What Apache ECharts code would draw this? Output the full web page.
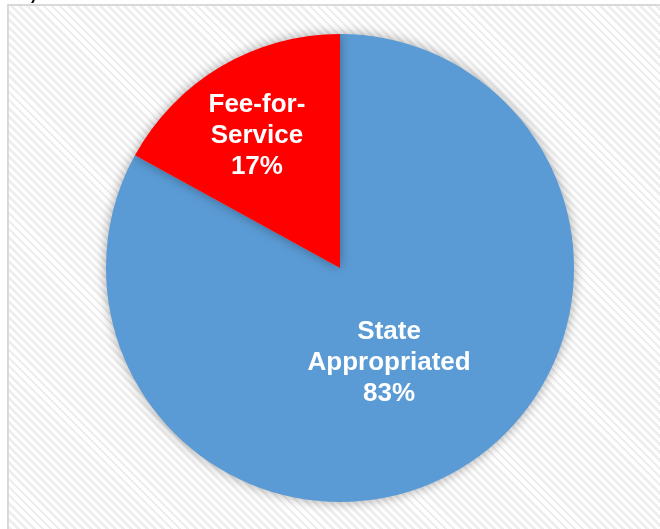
<!DOCTYPE html>
<html>
<head>
<meta charset="utf-8">
<script src="https://cdn.jsdelivr.net/npm/echarts@6/dist/echarts.min.js"></script>
<style>
html,body{margin:0;padding:0;width:660px;height:529px;overflow:hidden;background:#fff;}
#frame{position:absolute;left:7px;top:4px;width:700px;height:600px;border-left:2px solid #d9d9d9;border-top:2px solid #d9d9d9;
background:repeating-linear-gradient(45deg,#ffffff 0px,#ffffff 3px,#eeeeee 3px,#eeeeee 5.7px);}
#chart{position:absolute;left:0;top:0;width:660px;height:529px;}
</style>
</head>
<body>
<div id="frame"></div>
<div id="chart"></div>
<script>
var categories = ['State\nAppropriated', 'Fee-for-\nService'];
var values = [83, 17];
var colors = ['#5B9BD5', '#FF0000'];
var labelOffsets = [[-12, -8], [-22, -29]];

var chart = echarts.init(document.getElementById('chart'), null, {renderer: 'canvas'});
var data = categories.map(function (c, i) {
  return {
    name: c, value: values[i],
    itemStyle: {color: colors[i]},
    label: {offset: labelOffsets[i]}
  };
});
chart.setOption({
  backgroundColor: 'transparent',
  animation: false,
  graphic: [{type: 'text', left: 31, top: -12, style: {text: ')', font: 'bold 16px Liberation Sans', fill: '#000'}}],
  series: [{
    type: 'pie',
    center: [340, 268],
    radius: [0, 234],
    startAngle: 90,
    clockwise: true,
    data: data,
    itemStyle: {shadowBlur: 12, shadowColor: 'rgba(0,0,0,0.35)', borderWidth: 0},
    label: {
      show: true, position: 'inside',
      formatter: '{b}\n{d}%',
      color: '#ffffff', fontFamily: 'Liberation Sans', fontWeight: 'bold', fontSize: 26, lineHeight: 31
    },
    labelLine: {show: false},
    emphasis: {disabled: true}
  }]
});
</script>
</body>
</html>
